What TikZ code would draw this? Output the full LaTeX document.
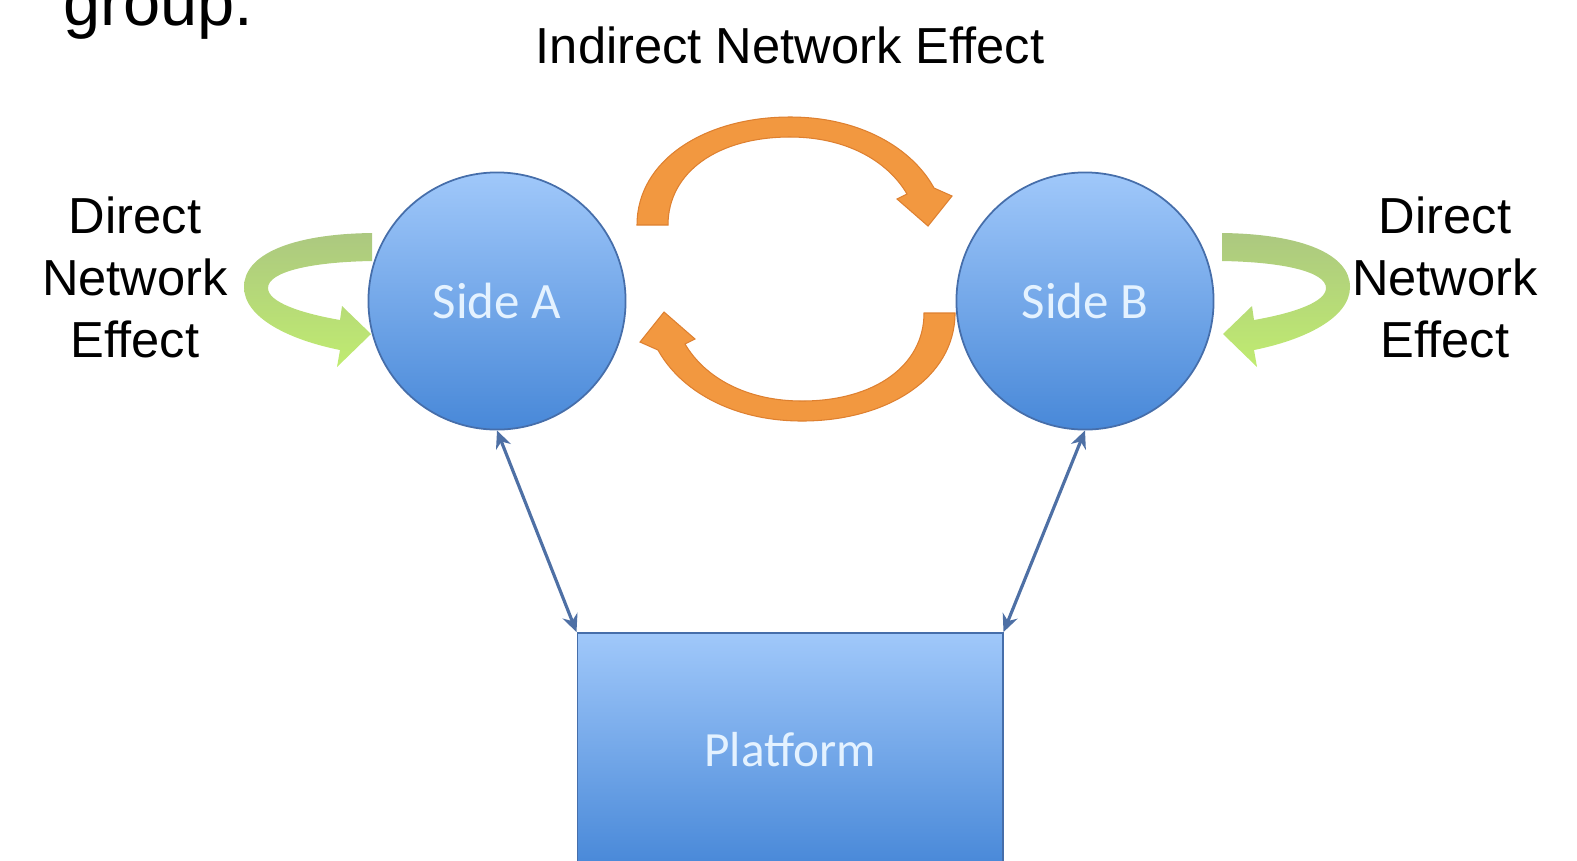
\documentclass[tikz,border=0pt]{standalone}
\usepackage{fontspec}
\setmainfont{Liberation Sans}
\newfontfamily\calibri{Carlito}
\usetikzlibrary{arrows.meta}

\definecolor{ballTop}{RGB}{160,200,250}
\definecolor{ballBottom}{RGB}{72,136,216}
\definecolor{ballEdge}{RGB}{70,110,170}
\definecolor{paleText}{RGB}{228,242,255}
\definecolor{linkBlue}{RGB}{78,112,165}
\definecolor{loopOrange}{RGB}{242,152,64}
\definecolor{loopOrangeEdge}{RGB}{222,128,48}
\definecolor{loopGreenTop}{RGB}{172,200,128}
\definecolor{loopGreenBottom}{RGB}{192,236,112}

\begin{document}
\begin{tikzpicture}[x=0.01cm, y=-0.01cm,
    side/.style={circle, draw=ballEdge, line width=0.5pt, minimum size=2.57cm,
        top color=ballTop, bottom color=ballBottom, text=paleText,
        font=\calibri\fontsize{14.5}{17}\selectfont},
    base/.style={rectangle, draw=ballEdge, line width=0.5pt, minimum width=4.25cm,
        minimum height=2.34cm, top color=ballTop, bottom color=ballBottom,
        text=paleText, font=\calibri\fontsize{14}{17}\selectfont},
    effect/.style={align=center, font=\fontsize{14.4}{17.6}\selectfont},
    link/.style={<->, >={Stealth[length=5pt, width=4.5pt]}, linkBlue, line width=0.9pt},
    orangeloop/.style={fill=loopOrange, draw=loopOrangeEdge, line width=0.3pt},
    greenloop/.style={top color=loopGreenTop, bottom color=loopGreenBottom, draw=none}]
    \useasboundingbox (0,0) rectangle (1577,860);

    % Cut-off line of text above
    \node[anchor=base west, inner sep=0pt, font=\fontsize{19}{23}\selectfont] (cut) at (63,25) {group.};

    % The two sides and the platform
    \node[side] (sideA) at (497,301) {Side A};
    \node[side] (sideB) at (1085,301) {Side B};
    \node[base] (platform) at (790,750) {Platform};

    \draw[link] (sideA.south) -- (platform.north west);
    \draw[link] (sideB.south) -- (platform.north east);

    % Labels
    \node[anchor=base, font=\fontsize{14.4}{17.6}\selectfont] (indirect) at (790,63) {Indirect Network Effect};
    \node[effect] (directA) at (135,277) {Direct\\Network\\Effect};
    \node[effect] (directB) at (1445,277) {Direct\\Network\\Effect};

    % Indirect effect loop
    \path[orangeloop] (637,225) .. controls (637,160) and (705,117) .. (790,117)
        .. controls (860,117) and (912,148) .. (934,188)
        -- (952,196) -- (928,226) -- (897,199) -- (907,194)
        .. controls (887,160) and (845,137) .. (790,137)
        .. controls (718,137) and (668,172) .. (668,225) -- cycle;
    \begin{scope}[rotate around={180:(796,269)}]
        \path[orangeloop] (637,225) .. controls (637,160) and (705,117) .. (790,117)
            .. controls (860,117) and (912,148) .. (934,188)
            -- (952,196) -- (928,226) -- (897,199) -- (907,194)
            .. controls (887,160) and (845,137) .. (790,137)
            .. controls (718,137) and (668,172) .. (668,225) -- cycle;
    \end{scope}

    % Direct effect loops
    \path[greenloop] (372,233) .. controls (290,234) and (244,255) .. (244,287)
        .. controls (244,318) and (290,340) .. (340,350)
        -- (337,367) -- (371,334) -- (342,306) -- (340,320)
        .. controls (300,313) and (268,302) .. (268,288)
        .. controls (268,272) and (310,262) .. (372,261) -- cycle;
    \begin{scope}[shift={(1594,0)}, xscale=-1]
        \path[greenloop] (372,233) .. controls (290,234) and (244,255) .. (244,287)
            .. controls (244,318) and (290,340) .. (340,350)
            -- (337,367) -- (371,334) -- (342,306) -- (340,320)
            .. controls (300,313) and (268,302) .. (268,288)
            .. controls (268,272) and (310,262) .. (372,261) -- cycle;
    \end{scope}
\end{tikzpicture}
\end{document}
